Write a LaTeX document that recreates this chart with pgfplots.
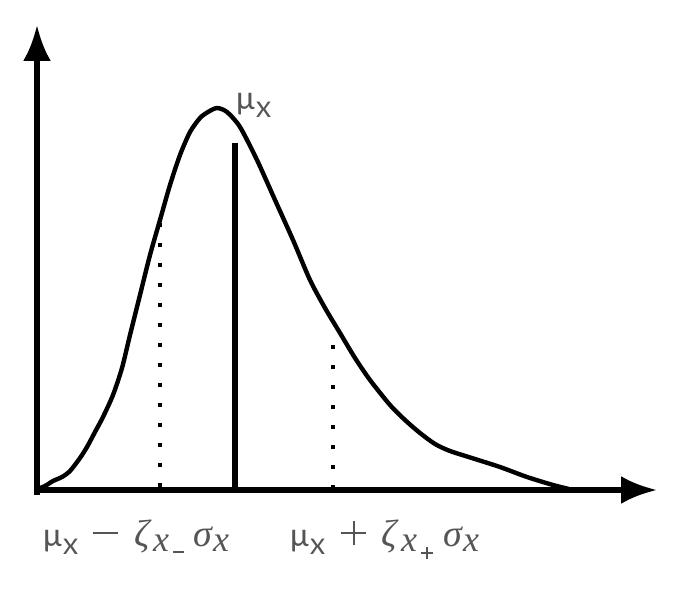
\documentclass[border=0pt]{standalone}
\usepackage{pgfplots}
\pgfplotsset{compat=1.18}
\usepackage{fontspec}
\setmainfont{Carlito}
\newfontfamily\gr{Liberation Serif}
\usetikzlibrary{arrows.meta}
\definecolor{lab}{RGB}{85,85,85}
\begin{document}
\begin{tikzpicture}
\begin{axis}[
  scale only axis, width=693pt, height=590pt,
  xmin=0, xmax=693, ymin=0, ymax=590,
  hide axis, clip=false]
\addplot[draw=none] coordinates {(0,0) (693,590)};
% axes
\addplot[line width=5.5pt, -{Latex[length=36pt,width=28pt]}] coordinates {(37,95) (37,565)};
\addplot[line width=5.5pt, -{Latex[length=36pt,width=28pt]}] coordinates {(34,100) (657,100)};
% curve
\addplot[line width=4.4pt, line join=round, line cap=round, smooth, tension=0.45] coordinates {
(37,101) (45,104) (53,109) (62,113) (70,119) (80,132) (87,143) (95,158)
(103,173) (113,195) (122,222) (130,255) (140,295) (150,335) (160,370)
(170,405) (180,435) (190,458) (200,472) (208,478) (217,482) (227,478)
(240,463) (257,430) (275,390) (293,350) (310,310) (325,282) (340,257)
(355,232) (370,210) (390,185) (405,170) (420,157) (435,146) (450,139)
(475,131) (500,123) (527,113) (553,105) (573,100)};
% mean line
\addplot[line width=6pt] coordinates {(235,100) (235,447)};
% dotted lines
\addplot[line width=4pt, dash pattern=on 4pt off 16pt] coordinates {(160,367) (160,100)};
\addplot[line width=4pt, dash pattern=on 4pt off 16pt] coordinates {(333,245) (333,100)};
% labels
\tikzset{lb/.style={anchor=base west, inner sep=0pt, text=lab},
  mu/.style={lb, font=\fontsize{34}{34}\selectfont},
  sx/.style={lb, font=\fontsize{24}{24}\selectfont},
  gk/.style={lb, font=\gr\itshape\fontsize{38}{38}\selectfont},
  ix/.style={lb, font=\gr\itshape\fontsize{36}{36}\selectfont}}
% top label
\node[mu] at (axis cs:236,480) {μ};
\node[sx] at (axis cs:256,472) {\scalebox{1.2}[1]{X}};
% label 1
\node[mu] at (axis cs:43,44) {μ};
\node[sx] at (axis cs:63,36) {\scalebox{1.2}[1]{X}};
\node[lb] at (axis cs:93,56) {\rule{25pt}{2.2pt}};
\node[gk] at (axis cs:134,44) {ζ};
\node[ix] at (axis cs:153,39) {x};
\node[lb] at (axis cs:173,37) {\rule{11pt}{1.8pt}};
\node[gk] at (axis cs:193,44) {σ};
\node[ix] at (axis cs:213,39) {x};
% label 2
\node[mu] at (axis cs:290,44) {μ};
\node[sx] at (axis cs:310,36) {\scalebox{1.2}[1]{X}};
\node[lb] at (axis cs:341,56) {\rule{25pt}{2.2pt}};
\node[lb] at (axis cs:352.4,45) {\rule{2.2pt}{24pt}};
\node[gk] at (axis cs:381,44) {ζ};
\node[ix] at (axis cs:401,39) {x};
\node[lb] at (axis cs:421,36) {\rule{12pt}{1.8pt}};
\node[lb] at (axis cs:426.1,31) {\rule{1.8pt}{12pt}};
\node[gk] at (axis cs:443,44) {σ};
\node[ix] at (axis cs:463,39) {x};
\end{axis}
\end{tikzpicture}
\end{document}
